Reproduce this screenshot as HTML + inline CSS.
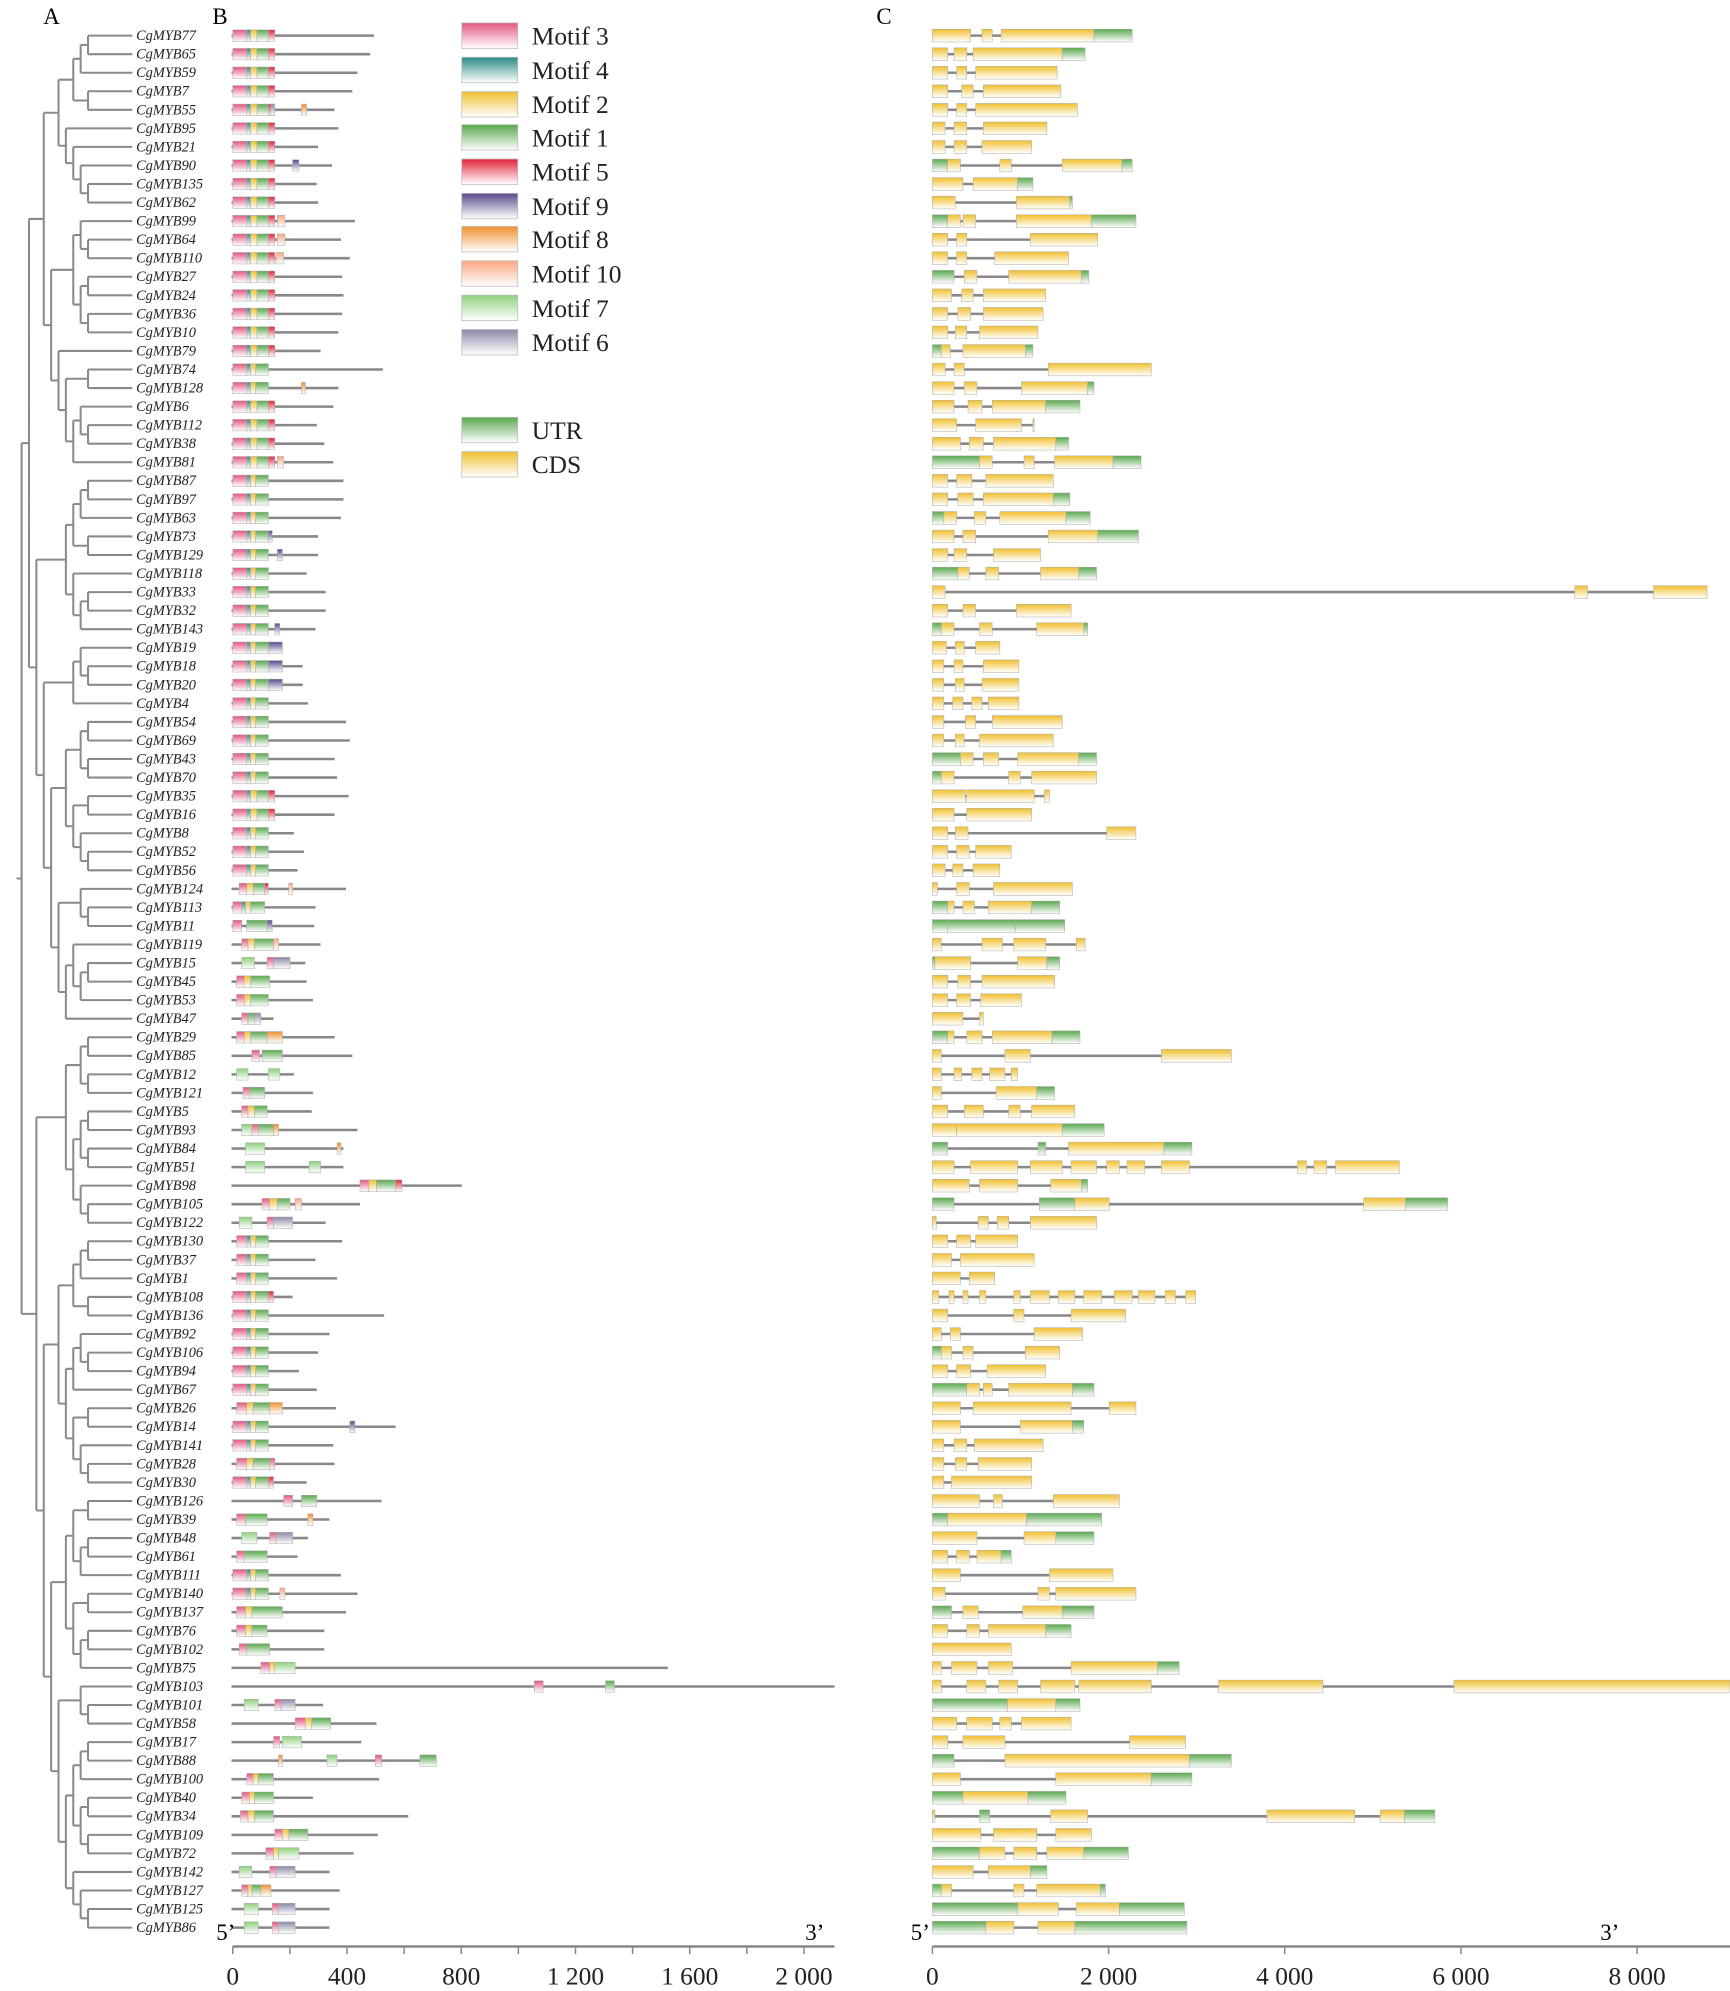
<!DOCTYPE html><html><head><meta charset="utf-8"><style>html,body{margin:0;padding:0;background:#fff}svg{display:block}</style></head><body>
<svg id="s" width="1730" height="1991" viewBox="0 0 1360 1565" preserveAspectRatio="none" xmlns="http://www.w3.org/2000/svg" font-family="Liberation Serif, serif"></svg>
<script>
const S=document.getElementById('s');let out='';
const C={p:'#e2587f',t:'#2a8a85',y:'#f0c030',g:'#5aa84f',r:'#e2233b',v:'#5a4a8a',o:'#f09030',k:'#f8a880',l:'#8fd07e',d:'#8a8aaa'};
let defs='<defs>';for(const k in C){defs+=`<linearGradient id="G${k}" x1="0" y1="0" x2="0" y2="1"><stop offset="0" stop-color="${C[k]}"/><stop offset="1" stop-color="#fff"/></linearGradient>`;}defs+='</defs>';out+=defs;
const order=[77,65,59,7,55,95,21,90,135,62,99,64,110,27,24,36,10,79,74,128,6,112,38,81,87,97,63,73,129,118,33,32,143,19,18,20,4,54,69,43,70,35,16,8,52,56,124,113,11,119,15,45,53,47,29,85,12,121,5,93,84,51,98,105,122,130,37,1,108,136,92,106,94,67,26,14,141,28,30,126,39,48,61,111,140,137,76,102,75,103,101,58,17,88,100,40,34,109,72,142,127,125,86];
const Y=i=>28+i*14.58;
order.forEach((n,i)=>{out+=`<text x="107" y="${Y(i)+3.5}" font-size="11.3" font-style="italic" fill="#222">CgMYB${n}</text>`;});
const a1=[[[[77,65],59],[7,55]],[95,[21,[90,[135,62]]]]];
const a2=[[[99,[64,110]],[[27,24],[36,10]]],[79,[[74,128],[[6,[112,38]],81]]]];
const a3=[[[[87,97],63],[73,129]],[118,[[33,32],143]]];
const a4=[[[19,[18,20]],4],[[[[54,69],[43,70]],[[35,16],[8,[52,56]]]],[[124,[113,11]],[[119,[[15,45],53]],47]]]];
const b1=[[[29,85],[12,121]],[[[5,93],[84,51]],[98,[105,122]]]];
const b2=[[[[130,37],1],[108,136]],[[[92,[106,94]],67],[[26,14],[141,[28,30]]]]];
const b3=[[[[126,39],[[48,61],111]],[[140,137],[[76,102],75]]],[[103,[101,58]],[[[[17,88],100],[[40,34],[109,72]]],[142,[127,[125,86]]]]]];
const tr=[[[a1,a2],[a3,a4]],[b1,[b2,b3]]];
function conv(a){return Array.isArray(a)?{ch:a.map(conv)}:{n:a};}
const root=conv(tr);
function h(nd){if(!nd.ch){nd.h=0;let k=order.indexOf(nd.n);nd.y=Y(k<0?0:k);return 0;}nd.h=1+Math.max(...nd.ch.map(h));nd.y=(nd.ch[0].y+nd.ch[nd.ch.length-1].y)/2;return nd.h;}
const H=h(root);const st=58/H;const X=nd=>nd.ch?75-nd.h*st:75;
let tl='';function dr(nd){if(!nd.ch)return;const x=X(nd);tl+=`M${x} ${nd.ch[0].y}V${nd.ch[nd.ch.length-1].y}`;nd.ch.forEach(c=>{tl+=`M${x} ${c.y}H${c.ch?X(c):104}`;dr(c);});}
dr(root);tl+=`M${X(root)-4} ${root.y}H${X(root)}`;
out+=`<path d="${tl}" stroke="#8a8a8a" stroke-width="1.6" fill="none"/>`;
const S5='p183-194 t194-197 y197-202 g202-211 r211-216',S4='p183-194 t194-197 y197-201 g201-211',S4b='p186-194 t194-197 y197-201 g201-211';
const B=[[294,S5],[291,S5],[281,S5],[277,S5],[263,S5+' d213-216 o237-241'],[266,S5],[250,S5],[261,S5+' v230-235'],[249,S5],[250,S5],
[279,S5+' k218-224'],[268,S5+' k218-224'],[275,S5+' k217-223'],[269,S5],[270,S5],[269,S5],[266,S5],[252,S5],[301,S4],[266,S4+' o237-240'],
[262,S5],[249,S5],[255,S5],[262,S5+' k218-223'],[270,S4],[270,S4],[268,S4],[250,S4+' v211-214'],[250,S4+' v218-222'],[241,S4],
[256,S4],[256,S4],[248,S4+' v216-220'],[222,S4+' v211-222'],[238,S4+' v211-222'],[238,S4+' v211-222'],[242,S4],[272,S4],[275,S4],[263,S4],
[265,S4],[274,S5],[263,S5],[231,S4],[239,S4],[234,S4],[272,'p188-194 y194-199 g199-208 r208-211 k227-230'],[248,'p183-190 t190-193 y193-197 g197-208'],[247,'p183-190 g194-210 v210-214'],[252,'p190-195 y195-200 g200-215 k215-219'],
[240,'l190-200 p210-215 d215-228'],[241,'p186-192 y192-197 g197-212'],[246,'p186-192 y192-197 g197-211'],[215,'p190-195 g195-200 d200-205'],[263,'p186-192 y192-197 g197-210 o210-222'],[277,'p198-204 g206-222'],[231,'l186-195 l211-220'],[246,'p191-196 g196-208'],[245,'p190-195 y195-200 g200-210'],[281,'l190-198 p198-203 g203-215 o215-219'],
[270,'l193-208 o265-268'],[270,'l193-208 l243-252'],[363,'p283-290 y290-296 g296-311 r311-316'],[283,'p206-212 y212-218 g218-228 k232-237'],[256,'l188-198 p210-215 d215-230'],[269,S4b],[248,S4b],[265,S4b],[230,S4+' r211-215'],[302,S4],[259,S4],
[250,S4],[235,S4],[249,S4],[264,'p186-194 y194-199 g199-212 o212-222'],[311,S4+' v275-279'],[262,S4],[263,'p186-194 y194-199 g199-212 p212-216'],[241,S4+' r211-215'],[300,'p223-230 g237-249'],
[259,'p186-193 g193-210 o242-246'],[242,'l190-202 p212-217 d217-230'],[234,'p186-192 g192-210'],[268,S4],[281,S4+' k220-224'],[272,'p186-193 y193-198 g198-222'],[255,'p186-193 y193-198 g198-210'],[255,'p188-194 g194-212'],[525,'p205-212 y212-216 l216-232'],[656,'p420-427 g476-483'],[254,'l192-203 p216-221 d221-232'],
[296,'p232-240 y240-245 g245-260'],[284,'p215-220 l222-237'],[343,'o219-222 l257-265 p295-300 g330-343'],[298,'p194-199 y199-203 g203-215'],[246,'p190-196 y196-200 g200-215'],[321,'p189-195 y195-200 g200-215'],[297,'p216-222 y222-227 g227-242'],[278,'p209-215 y215-219 l219-235'],[259,'l188-198 p212-217 d217-232'],[267,'p190-195 y195-198 g198-205 o205-213'],[259,'l192-203 p214-219 d219-232'],[259,'l192-203 p214-219 d219-232']];
B.forEach((b,i)=>{if(i>=order.length)return;const y=Y(i);out+=`<line x1="182" y1="${y}" x2="${b[0]}" y2="${y}" stroke="#888" stroke-width="2"/>`;
b[1].split(' ').forEach(s=>{const c=s[0],q=s.slice(1).split('-').map(Number);out+=`<rect x="${q[0]}" y="${y-4.5}" width="${q[1]-q[0]}" height="9" fill="url(#G${c})" stroke="#aaa" stroke-width="0.4"/>`;});});
const CG=["y733-763 y772-780 y787-860 g860-890","y733-745 y750-760 y765-835 g835-853","y733-745 y752-760 y767-831","y733-745 y756-765 y773-834","y733-745 y752-760 y767-847","y733-743 y750-760 y773-823","y733-743 y750-760 y772-811","g733-745 y745-755 y786-795 y835-882 g882-890","y733-757 y765-800 g800-812","y733-751 y799-841 g841-843",
"g733-745 y745-755 y757-767 y799-858 g858-893","y733-745 y752-760 y810-863","y733-745 y752-760 y782-840","g733-750 y758-768 y793-850 g850-856","y733-748 y756-765 y773-822","y733-745 y753-763 y773-820","y733-745 y751-760 y770-816","g733-740 y740-747 y757-806 g806-812","y733-743 y750-758 y824-905","y733-750 y758-768 y803-855 g855-860",
"y733-750 y761-772 y780-822 g822-849","y733-752 y767-803 y812-813","y733-755 y762-773 y781-830 g830-840","g733-770 y770-780 y805-813 y829-875 g875-897","y733-745 y752-764 y775-828","y733-745 y753-765 y773-828 g828-841","g733-742 y742-752 y766-775 y786-838 g838-857","y733-750 y757-767 y824-863 g863-895","y733-745 y750-760 y781-818","g733-753 y753-762 y775-785 y818-848 g848-862",
"y733-743 y1238-1248 y1300-1342","y733-745 y757-767 y799-842","g733-740 y740-750 y770-780 y815-852 g852-855","y733-744 y751-758 y767-786","y733-742 y750-757 y773-801","y733-742 y751-758 y772-801","y733-742 y749-757 y764-772 y777-801","y733-742 y759-767 y780-835","y733-742 y751-758 y770-828","g733-755 y755-765 y773-785 y800-848 g848-862",
"g733-740 y740-750 y793-802 y811-862","y733-759 y760-813 y821-825","y733-750 y760-811","y733-745 y751-761 y870-893","y733-745 y752-762 y767-795","y733-743 y749-757 y765-786","y733-737 y752-762 y781-843","g733-745 y745-750 y757-766 y777-811 g811-833","g733-745 g745-798 g798-837","y733-740 y772-788 y797-822 y846-853",
"g733-735 y735-763 y800-823 g823-833","y733-745 y753-763 y772-829","y733-745 y752-763 y771-803","y733-757 y770-773","g733-745 y745-750 y760-772 y780-827 g827-849","y733-740 y790-810 y913-968","y733-740 y750-756 y764-772 y778-790 y795-800","y733-740 y783-815 g815-829","y733-745 y758-773 y793-802 y811-845","y733-752 y752-835 g835-868",
"g733-745 g816-822 y840-915 g915-937","y733-750 y763-800 y810-835 y842-862 y870-880 y886-900 y913-935 y1020-1027 y1033-1043 y1050-1100","y733-762 y770-800 y826-850 g850-855","g733-750 g817-845 y845-872 y1072-1105 g1105-1138","y733-736 y769-777 y784-793 y810-862","y733-745 y752-763 y767-800","y733-748 y755-813","y733-755 y762-782","y733-738 y746-750 y757-761 y770-775 y797-802 y810-825 y832-845 y852-866 y876-890 y895-908 y916-924 y932-940","y733-745 y797-805 y842-885",
"y733-740 y747-755 y813-851","g733-740 y740-748 y757-765 y806-833","y733-745 y752-763 y776-822","g733-760 y760-770 y773-780 y793-843 g843-860","y733-755 y765-842 y872-893","y733-755 y802-843 g843-852","y733-742 y750-760 y766-820","y733-742 y751-760 y769-811","y733-742 y748-811","y733-770 y781-788 y828-880",
"g733-745 y745-807 g807-866","y733-768 y805-830 g830-860","y733-745 y752-762 y768-787 g787-795","y733-755 y825-875","y733-743 y816-825 y830-893","g733-748 y757-769 y804-835 g835-860","y733-745 y760-770 y777-822 g822-842","y733-795","y733-740 y748-768 y777-796 y842-910 g910-927","y733-740 y760-775 y785-800 y818-845 y848-905 y958-1040 y1143-1360",
"g733-792 y792-830 g830-849","y733-752 y760-780 y786-795 y803-842","y733-745 y757-790 y888-932","g733-750 y790-935 g935-968","y733-755 y830-905 g905-937","g733-757 y757-808 g808-838","y733-735 g770-778 y826-855 y996-1065 y1085-1104 g1104-1128","y733-771 y781-815 y830-858","g733-770 y770-790 y797-815 y823-852 g852-887","y733-765 y777-810 g810-823",
"g733-740 y740-748 y797-805 y815-865 g865-869","g733-800 y800-832 y846-880 g880-931","g733-775 y775-797 y816-845 g845-933"];
CG.forEach((s,i)=>{if(i>=order.length)return;const y=Y(i);const bx=s.split(' ').map(t=>{const q=t.slice(1).split('-').map(Number);return [t[0],q[0],q[1]];});let e=0;bx.forEach(b=>{if(b[2]>e)e=b[2];});
out+=`<line x1="733" y1="${y}" x2="${e}" y2="${y}" stroke="#888" stroke-width="2"/>`;
bx.forEach(b=>{out+=`<rect x="${b[1]}" y="${y-5}" width="${b[2]-b[1]}" height="10" fill="url(#G${b[0]})" stroke="#aaa" stroke-width="0.4"/>`;});});
const L=[['p','Motif 3',18],['t','Motif 4',45],['y','Motif 2',72],['g','Motif 1',98],['r','Motif 5',125],['v','Motif 9',152],['o','Motif 8',178],['k','Motif 10',205],['l','Motif 7',232],['d','Motif 6',259],['g','UTR',328],['y','CDS',355]];
L.forEach(l=>{out+=`<rect x="363" y="${l[2]}" width="44" height="20" fill="url(#G${l[0]})" stroke="#bbb" stroke-width="0.6"/><text x="418" y="${l[2]+17}" font-size="20" fill="#222">${l[1]}</text>`;});
out+=`<line x1="183" y1="1530" x2="656" y2="1530" stroke="#888" stroke-width="2"/><line x1="733" y1="1530" x2="1360" y2="1530" stroke="#888" stroke-width="2"/>`;
for(let v=0;v<=2100;v+=200){const x=183+v*0.2245;out+=`<line x1="${x}" y1="1530" x2="${x}" y2="1536" stroke="#888" stroke-width="1.2"/>`;}
["0","400","800","1 200","1 600","2 000"].forEach((t,i)=>{out+=`<text x="${183+i*400*0.2245}" y="1560" font-size="20" text-anchor="middle" fill="#222">${t}</text>`;});
["0","2 000","4 000","6 000","8 000"].forEach((t,i)=>{const x=733+i*2000*0.06925;out+=`<line x1="${x}" y1="1530" x2="${x}" y2="1536" stroke="#888" stroke-width="1.2"/><text x="${x}" y="1560" font-size="20" text-anchor="middle" fill="#222">${t}</text>`;});
out+=`<text x="170" y="1525" font-size="18">5’</text><text x="633" y="1525" font-size="18">3’</text><text x="716" y="1525" font-size="18">5’</text><text x="1258" y="1525" font-size="18">3’</text>`;
out+=`<text x="34" y="19" font-size="18">A</text><text x="167" y="19" font-size="18">B</text><text x="689" y="19" font-size="18">C</text>`;
S.innerHTML=out;
</script></body></html>
